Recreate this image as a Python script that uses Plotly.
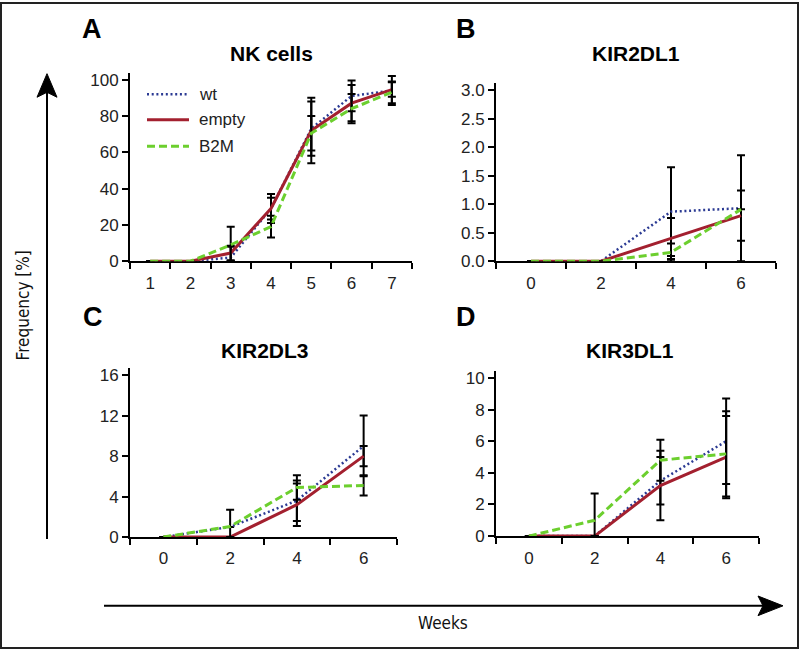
import plotly.graph_objects as go

# ---------------- data ----------------
series_names = ["wt", "empty", "B2M"]

weeks_A = ["1", "2", "3", "4", "5", "6", "7"]
A_wt = [0, 0, 2, 29, 73, 91, 94]
A_empty = [0, 0, 4.5, 29, 72, 87, 94.5]
A_b2m = [0, 0, 9, 19, 70.5, 84, 93]
A_wt_err = [None, None, 6, 6, 15, 8.5, 8]
A_empty_err = [None, None, 4, 8, 18, 10, 4]
A_b2m_err = [None, None, 10, 6, 9.5, 8, 6]

weeks_B = ["0", "2", "4", "6"]
B_wt = [0, 0, 0.87, 0.93]
B_empty = [0, 0, 0.40, 0.80]
B_b2m = [0, 0, 0.155, 0.91]
B_wt_err = [None, None, 0.78, 0.93]
B_empty_err = [None, None, 0.36, 0.44]
B_b2m_err = [None, None, 0.155, None]

weeks_C = ["0", "2", "4", "6"]
C_wt = [0, 1.0, 3.6, 9.0]
C_empty = [0, 0, 3.2, 8.0]
C_b2m = [0, 1.05, 4.9, 5.1]
C_wt_err = [None, None, 2.0, 3.0]
C_empty_err = [None, None, 2.1, 1.0]
C_b2m_err = [None, 1.65, 1.2, 1.0]

weeks_D = ["0", "2", "4", "6"]
D_wt = [0, 0, 3.5, 6.0]
D_empty = [0, 0, 3.2, 5.0]
D_b2m = [0, 1.0, 4.8, 5.2]
D_wt_err = [None, None, 1.5, 2.7]
D_empty_err = [None, None, 2.2, 2.6]
D_b2m_err = [None, 1.7, 1.3, 2.7]

panel_titles = ["NK cells", "KIR2DL1", "KIR2DL3", "KIR3DL1"]
panel_letters = ["A", "B", "C", "D"]
y_axis_title = "Frequency [%]"
x_axis_title = "Weeks"

# ---------------- styling ----------------
W, H = 800, 660
FONT = "Liberation Sans, Arial, Helvetica, sans-serif"
NARROW = "Liberation Sans Narrow, Arial Narrow, DejaVu Sans Condensed, Liberation Sans, sans-serif"
styles = {
    "wt": dict(color="#2b3a93", width=2.5, dash="2px,2.7px"),
    "empty": dict(color="#a3202f", width=3, dash="solid"),
    "B2M": dict(color="#6ccf2e", width=3, dash="8px,4px"),
}


def px(x):
    return x / W


def py(y):
    return 1 - y / H


panels = [
    dict(x=weeks_A, ys=[A_wt, A_empty, A_b2m], errs=[A_wt_err, A_empty_err, A_b2m_err],
         xdom=[px(130), px(412)], ydom=[py(264), py(72)], yrange=[0, 103.8], dtick=20, fmt="",
         title_xy=(271, 52), letter_xy=(92, 28)),
    dict(x=weeks_B, ys=[B_wt, B_empty, B_b2m], errs=[B_wt_err, B_empty_err, B_b2m_err],
         xdom=[px(496), px(776)], ydom=[py(264), py(83)], yrange=[0, 3.12], dtick=0.5, fmt=".1f",
         title_xy=(636, 52), letter_xy=(466, 28)),
    dict(x=weeks_C, ys=[C_wt, C_empty, C_b2m], errs=[C_wt_err, C_empty_err, C_b2m_err],
         xdom=[px(130), px(397)], ydom=[py(545), py(373)], yrange=[0, 16.68], dtick=4, fmt="",
         title_xy=(265, 355), letter_xy=(93, 321)),
    dict(x=weeks_D, ys=[D_wt, D_empty, D_b2m], errs=[D_wt_err, D_empty_err, D_b2m_err],
         xdom=[px(496), px(759)], ydom=[py(544), py(376)], yrange=[0, 10.43], dtick=2, fmt="",
         title_xy=(630, 355), letter_xy=(466, 321)),
]

fig = go.Figure()
annotations = []
shapes = []

for i, p in enumerate(panels):
    k = "" if i == 0 else str(i + 1)
    xa, ya = "x" + k, "y" + k
    for name, yv, ev in zip(series_names, p["ys"], p["errs"]):
        st = styles[name]
        minus = [None if e is None else min(e, v) for e, v in zip(ev, yv)]
        fig.add_trace(go.Scatter(
            x=p["x"], y=yv, mode="lines", name=name, showlegend=False, hoverinfo="skip",
            line=dict(color=st["color"], width=st["width"], dash=st["dash"]),
            error_y=dict(type="data", array=ev, arrayminus=minus, symmetric=False,
                         color="black", thickness=2, width=4, visible=True),
            cliponaxis=False, xaxis=xa, yaxis=ya,
        ))
    axis_common = dict(showline=True, linecolor="black", linewidth=2, showgrid=False,
                       zeroline=False, ticks="outside", tickcolor="black", tickwidth=2,
                       ticklen=6, layer="below traces",
                       tickfont=dict(family=FONT, size=17, color="#222"))
    fig.layout["xaxis" + k] = dict(axis_common, domain=p["xdom"], anchor=ya, type="category",
                                   tickson="boundaries", range=[-0.5, len(p["x"]) - 0.5],
                                   ticklabelstandoff=5)
    fig.layout["yaxis" + k] = dict(axis_common, domain=p["ydom"], anchor=xa, range=p["yrange"],
                                   tick0=0, dtick=p["dtick"], tickformat=p["fmt"])
    tx, ty = p["title_xy"]
    annotations.append(dict(text="<b>%s</b>" % panel_titles[i], x=px(tx), y=py(ty),
                            xref="paper", yref="paper", showarrow=False, xanchor="center",
                            yanchor="middle", font=dict(family=FONT, size=21, color="black")))
    lx, ly = p["letter_xy"]
    annotations.append(dict(text="<b>%s</b>" % panel_letters[i], x=px(lx), y=py(ly),
                            xref="paper", yref="paper", showarrow=False, xanchor="center",
                            yanchor="middle", font=dict(family=FONT, size=27, color="black")))

# manual legend in panel A
for j, name in enumerate(series_names):
    st = styles[name]
    yy = [94, 120, 147][j]
    shapes.append(dict(type="line", xref="paper", yref="paper", x0=px(147), x1=px(189),
                       y0=py(yy), y1=py(yy),
                       line=dict(color=st["color"], width=st["width"], dash=st["dash"])))
    annotations.append(dict(text=name, x=px(197), y=py(yy), xref="paper", yref="paper",
                            showarrow=False, xanchor="left", yanchor="middle",
                            font=dict(family=FONT, size=17, color="#222")))

# big axis arrows
shapes.append(dict(type="line", xref="paper", yref="paper", x0=px(47), x1=px(47),
                   y0=py(547), y1=py(90), line=dict(color="black", width=2)))
shapes.append(dict(type="path", xref="paper", yref="paper",
                   path="M %f,%f L %f,%f L %f,%f L %f,%f Z" % (
                       px(47), py(73), px(57), py(97), px(47), py(92), px(37), py(97)),
                   fillcolor="black", line=dict(color="black", width=1)))
shapes.append(dict(type="line", xref="paper", yref="paper", x0=px(104), x1=px(765),
                   y0=py(615), y1=py(615), line=dict(color="black", width=2)))
shapes.append(dict(type="path", xref="paper", yref="paper",
                   path="M %f,%f L %f,%f L %f,%f L %f,%f Z" % (
                       px(783), py(615), px(758), py(605), px(763), py(615), px(758), py(625)),
                   fillcolor="black", line=dict(color="black", width=1)))
# frame
shapes.append(dict(type="rect", xref="paper", yref="paper", x0=px(1), x1=px(798),
                   y0=py(658), y1=py(1), line=dict(color="#222", width=2)))

annotations.append(dict(text=y_axis_title, x=px(23), y=py(309), xref="paper", yref="paper",
                        showarrow=False, textangle=-90, xanchor="center", yanchor="middle",
                        font=dict(family=NARROW, size=17, color="#111")))
annotations.append(dict(text=x_axis_title, x=px(443), y=py(632), xref="paper", yref="paper",
                        showarrow=False, xanchor="center", yanchor="middle",
                        font=dict(family=NARROW, size=17, color="#111")))

fig.update_layout(width=W, height=H, autosize=False, margin=dict(l=0, r=0, t=0, b=0),
                  paper_bgcolor="white", plot_bgcolor="white", showlegend=False,
                  hovermode=False,
                  annotations=annotations, shapes=shapes, font=dict(family=FONT))

fig.write_html("out.html",
               config={"responsive": False, "displayModeBar": False},
               post_script="document.body.style.margin='0px';document.body.style.overflow='hidden';")
